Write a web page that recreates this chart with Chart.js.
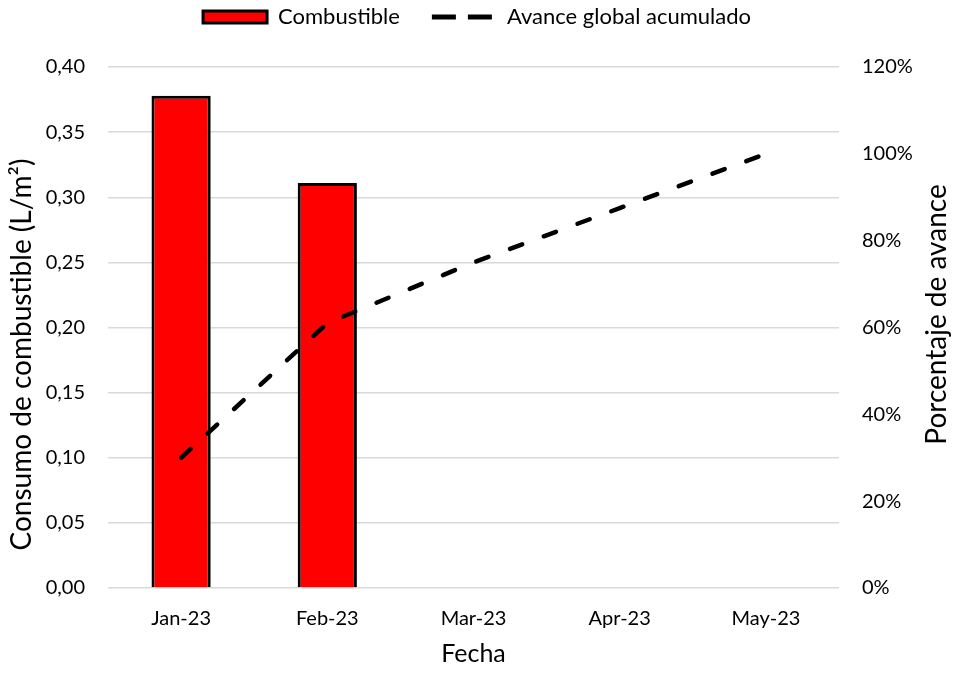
<!DOCTYPE html>
<html>
<head>
<meta charset="utf-8">
<script src="https://cdn.jsdelivr.net/npm/chart.js@4/dist/chart.umd.min.js"></script>
<style>
  html, body { margin: 0; padding: 0; background: #ffffff; }
  #wrap { width: 954px; height: 673px; position: relative; }
</style>
</head>
<body>
<div id="wrap"><canvas id="c" width="954" height="673"></canvas></div>
<script>
const categories = ['Jan-23', 'Feb-23', 'Mar-23', 'Apr-23', 'May-23'];
const fuelValues = [0.378, 0.311, null, null, null];
const progressValues = [30, 61, 75, 87.5, 100];
const leftTicks = [0, 0.05, 0.10, 0.15, 0.20, 0.25, 0.30, 0.35, 0.40];
const rightTicks = [0, 20, 40, 60, 80, 100, 120];
const leftTitle = 'Consumo de combustible (L/m²)';
const rightTitle = 'Porcentaje de avance';

const FONT = 'Lato';
const TICK_SIZE = 20;
const TITLE_SIZE = 28;

const axisTitles = {
  id: 'axisTitles',
  afterDraw(chart) {
    const c = chart.ctx;
    const a = chart.chartArea;
    const mid = (a.top + a.bottom) / 2;
    c.save();
    c.fillStyle = '#000000';
    c.font = TITLE_SIZE + 'px ' + FONT;
    c.textAlign = 'center';
    c.textBaseline = 'middle';
    c.save();
    c.translate(22, mid + 27);
    c.rotate(-Math.PI / 2);
    c.fillText(leftTitle, 0, 0);
    c.restore();
    c.save();
    c.translate(937, mid - 13);
    c.rotate(-Math.PI / 2);
    c.fillText(rightTitle, 0, 0);
    c.restore();
    c.restore();
  }
};

const legendSpacing = {
  id: 'legendSpacing',
  beforeInit(chart) {
    const orig = chart.legend.fit;
    chart.legend.fit = function() {
      orig.bind(chart.legend)();
      this.height = 93;
    };
  }
};

const ctx = document.getElementById('c').getContext('2d');
new Chart(ctx, {
  data: {
    labels: categories,
    datasets: [
      {
        type: 'line',
        label: 'Avance global acumulado',
        data: progressValues,
        yAxisID: 'y2',
        borderColor: '#000000',
        backgroundColor: '#000000',
        borderWidth: 4.5,
        borderDash: [13, 23],
        borderCapStyle: 'round',
        pointRadius: 0,
        tension: 0,
        order: 0
      },
      {
        type: 'bar',
        label: 'Combustible',
        data: fuelValues,
        yAxisID: 'y',
        backgroundColor: '#ff0000',
        borderColor: '#000000',
        borderWidth: 3,
        barPercentage: 1,
        categoryPercentage: 0.405,
        order: 1
      }
    ]
  },
  plugins: [legendSpacing, axisTitles],
  options: {
    responsive: false,
    animation: false,
    devicePixelRatio: 1,
    layout: { padding: { top: -26, bottom: 0, left: 0, right: 0 } },
    plugins: {
      tooltip: { enabled: false },
      legend: {
        position: 'top',
        labels: {
          font: { family: FONT, size: 22 },
          color: '#000000',
          usePointStyle: true,
          boxWidth: 64,
          boxHeight: 12,
          pointStyleWidth: 64,
          padding: 32,
          generateLabels: function(chart) {
            return [
              { text: 'Combustible', fillStyle: '#ff0000', strokeStyle: '#000000', lineWidth: 3, pointStyle: 'rect', datasetIndex: 1, hidden: false, lineDash: [] },
              { text: 'Avance global acumulado', fillStyle: '#000000', strokeStyle: '#000000', lineWidth: 5, pointStyle: 'line', datasetIndex: 0, hidden: false, lineDash: [24, 12], lineCap: 'butt' }
            ];
          }
        }
      }
    },
    scales: {
      x: {
        grid: { display: false, drawTicks: false },
        border: { display: false },
        ticks: { font: { family: FONT, size: TICK_SIZE }, color: '#000000', padding: 19 },
        title: { display: true, text: 'Fecha', font: { family: FONT, size: 25 }, color: '#000000', padding: { top: 2 } },
        afterFit: function(s) { s.height = 85; }
      },
      y: {
        position: 'left',
        min: 0, max: 0.4,
        afterBuildTicks: function(s) { s.ticks = leftTicks.map(v => ({ value: v })); },
        grid: { color: '#d9d9d9', lineWidth: 1.5, drawTicks: false },
        border: { display: false },
        ticks: {
          font: { family: FONT, size: TICK_SIZE }, color: '#000000', padding: 23,
          callback: function(v) { return Number(v).toFixed(2).replace('.', ','); }
        },
        title: { display: false },
        afterFit: function(s) { s.width = 108; }
      },
      y2: {
        position: 'right',
        min: 0, max: 120,
        afterBuildTicks: function(s) { s.ticks = rightTicks.map(v => ({ value: v })); },
        grid: { display: false, drawTicks: false },
        border: { display: false },
        ticks: {
          font: { family: FONT, size: TICK_SIZE }, color: '#000000', padding: 23,
          callback: function(v) { return v + '%'; }
        },
        title: { display: false },
        afterFit: function(s) { s.width = 115; }
      }
    }
  }
});
</script>
</body>
</html>
